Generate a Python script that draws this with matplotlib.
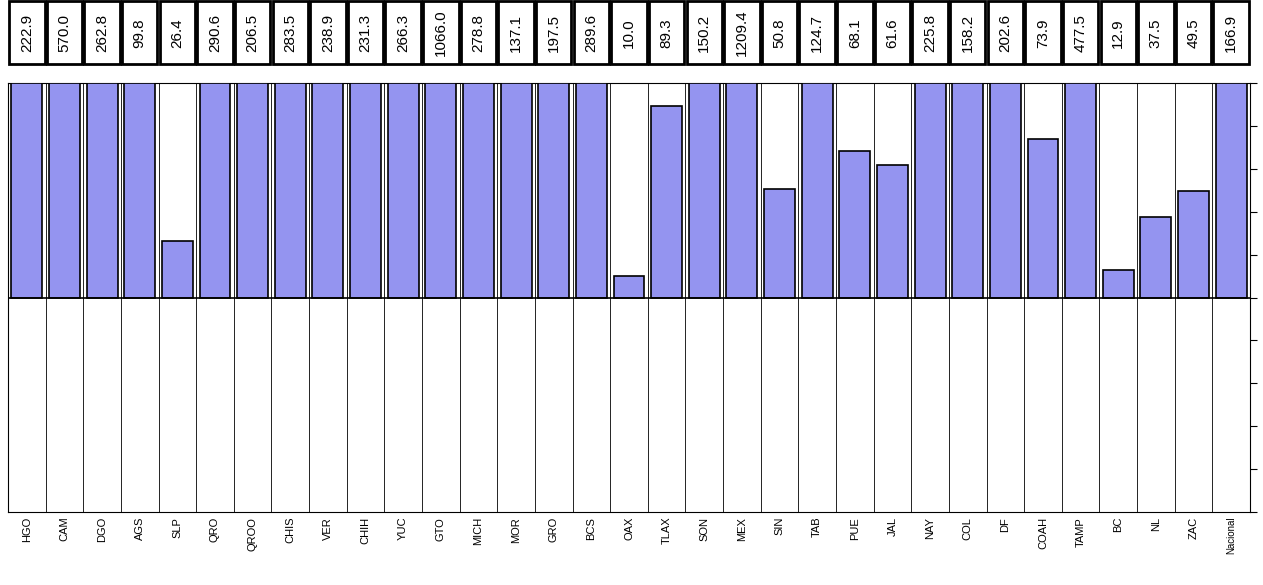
import matplotlib.pyplot as plt
from matplotlib.patches import Rectangle
import matplotlib.transforms as mtransforms

plt.rcParams["font.family"] = ["Liberation Sans", "DejaVu Sans"]

estados = ["HGO", "CAM", "DGO", "AGS", "SLP", "QRO", "QROO", "CHIS", "VER", "CHIH", "YUC",
           "GTO", "MICH", "MOR", "GRO", "BCS", "OAX", "TLAX", "SON", "MEX", "SIN", "TAB",
           "PUE", "JAL", "NAY", "COL", "DF", "COAH", "TAMP", "BC", "NL", "ZAC", "Nacional"]
valores = [222.9, 570.0, 262.8, 99.8, 26.4, 290.6, 206.5, 283.5, 238.9, 231.3, 266.3,
           1066.0, 278.8, 137.1, 197.5, 289.6, 10.0, 89.3, 150.2, 1209.4, 50.8, 124.7,
           68.1, 61.6, 225.8, 158.2, 202.6, 73.9, 477.5, 12.9, 37.5, 49.5, 166.9]

fig = plt.figure(figsize=(12.63, 5.85), dpi=100)
ax = fig.add_axes([8 / 1263, 73 / 585, 1242 / 1263, 429 / 585])

n = len(estados)
x = list(range(n))
ax.bar(x, [min(v, 100) for v in valores], width=0.82, color="#9494f0",
       edgecolor="black", linewidth=1.2, zorder=3)
ax.set_xlim(-0.5, n - 0.5)
ax.set_ylim(-100, 100)

for i in range(n + 1):
    ax.axvline(i - 0.5, color="black", linewidth=0.6, zorder=1)
ax.axhline(0, color="black", linewidth=1.2, zorder=4)

ax.yaxis.tick_right()
ax.set_yticks(range(-100, 101, 20))
ax.set_yticklabels([])
ax.tick_params(axis="y", direction="out", length=5)
ax.set_xticks(x)
ax.set_xticklabels(estados, rotation=90, fontsize=8)
ax.get_xticklabels()[-1].set_fontsize(7)
ax.tick_params(axis="x", length=0)
for s in ax.spines.values():
    s.set_linewidth(0.8)

trans = mtransforms.blended_transform_factory(ax.transData, ax.transAxes)
for i, v in enumerate(valores):
    ax.add_patch(Rectangle((i - 0.47, 1.044), 0.94, 0.147, transform=trans,
                           facecolor="white", edgecolor="black", linewidth=2,
                           clip_on=False))
    ax.text(i, 1.117, f"{v:.1f}", transform=trans, rotation=90,
            ha="center", va="center", fontsize=11)

fig.savefig("out.png")
